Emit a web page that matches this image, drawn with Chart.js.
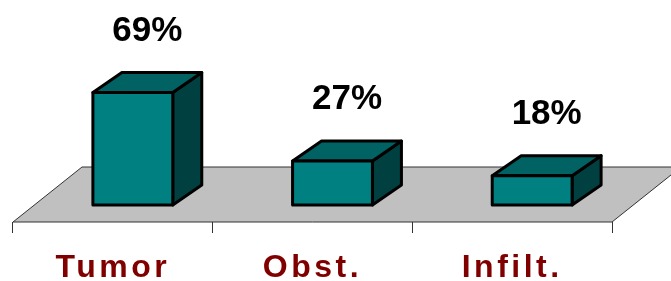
<!DOCTYPE html>
<html lang="en">
<head>
<meta charset="UTF-8">
<title>Chart</title>
<script src="https://cdn.jsdelivr.net/npm/chart.js"></script>
<style>
  html, body { margin: 0; padding: 0; background: #fff; }
  #wrap { width: 671px; height: 281px; }
</style>
</head>
<body>
<div id="wrap"><canvas id="myChart"></canvas></div>
<script>
// data
const categories = ['Tumor', 'Obst.', 'Infilt.'];
const values = [69, 27, 18];
const valueLabels = ['69%', '27%', '18%'];

const FONT = 'Arial, "Liberation Sans", sans-serif';

// pseudo 3D look: floor depth, bar depth and where the bar sits on the floor
const floor = { dx: 69, dy: 55 };
const barDepth = { dx: 29, dy: 20 };
const barShift = { dx: 20, dy: 17 };

const spacing = {
  id: 'spacing',
  beforeDraw(chart) { chart.ctx.letterSpacing = '3.5px'; },
  afterDraw(chart) { chart.ctx.letterSpacing = '0px'; }
};

const box3d = {
  id: 'box3d',
  beforeDatasetsDraw(chart) {
    const ctx = chart.ctx;
    const a = chart.chartArea;
    ctx.save();
    ctx.beginPath();
    ctx.moveTo(a.left, a.bottom);
    ctx.lineTo(a.right, a.bottom);
    ctx.lineTo(a.right + floor.dx, a.bottom - floor.dy);
    ctx.lineTo(a.left + floor.dx, a.bottom - floor.dy);
    ctx.closePath();
    ctx.fillStyle = '#c0c0c0';
    ctx.fill();
    ctx.strokeStyle = '#333';
    ctx.lineWidth = 1;
    ctx.stroke();
    ctx.restore();
  },
  afterDatasetsDraw(chart) {
    const ctx = chart.ctx;
    const meta = chart.getDatasetMeta(0);
    ctx.save();
    ctx.letterSpacing = '0px';
    ctx.lineWidth = 3;
    ctx.lineJoin = 'round';
    ctx.strokeStyle = '#000';
    meta.data.forEach((bar, i) => {
      const l = bar.x - bar.width / 2 + barShift.dx;
      const r = bar.x + bar.width / 2 + barShift.dx;
      const t = bar.y - barShift.dy;
      const b = bar.base - barShift.dy;
      const dx = barDepth.dx, dy = barDepth.dy;

      const face = (pts, color) => {
        ctx.beginPath();
        ctx.moveTo(pts[0][0], pts[0][1]);
        for (let k = 1; k < pts.length; k++) ctx.lineTo(pts[k][0], pts[k][1]);
        ctx.closePath();
        ctx.fillStyle = color;
        ctx.fill();
        ctx.stroke();
      };
      // side
      face([[r, t], [r + dx, t - dy], [r + dx, b - dy], [r, b]], '#004040');
      // top
      face([[l, t], [l + dx, t - dy], [r + dx, t - dy], [r, t]], '#006262');
      // front
      face([[l, t], [r, t], [r, b], [l, b]], '#008080');

      ctx.fillStyle = '#000';
      ctx.font = 'bold 35px ' + FONT;
      ctx.textAlign = 'center';
      ctx.textBaseline = 'alphabetic';
      ctx.fillText(valueLabels[i], (l + r + dx) / 2, t - dy - 32);
    });
    ctx.restore();
  }
};

const ctx = document.getElementById('myChart').getContext('2d');

new Chart(ctx, {
  type: 'bar',
  data: {
    labels: categories,
    datasets: [{
      data: values,
      backgroundColor: 'rgba(0,0,0,0)',
      borderWidth: 0,
      barPercentage: 0.4,
      categoryPercentage: 1
    }]
  },
  options: {
    responsive: true,
    maintainAspectRatio: false,
    animation: false,
    layout: { padding: { left: 13, right: 59, top: 59, bottom: 0 } },
    plugins: {
      legend: { display: false },
      tooltip: { enabled: false }
    },
    scales: {
      x: {
        afterFit(scale) { scale.height = 59; },
        border: { display: false },
        grid: {
          display: true,
          drawOnChartArea: false,
          drawTicks: true,
          tickLength: 11,
          color: '#333',
          lineWidth: 1
        },
        ticks: {
          color: '#800000',
          padding: 16,
          font: { family: FONT, size: 32, weight: 'bold' }
        }
      },
      y: {
        display: false,
        min: 0,
        max: 100
      }
    }
  },
  plugins: [spacing, box3d]
});
</script>
</body>
</html>
